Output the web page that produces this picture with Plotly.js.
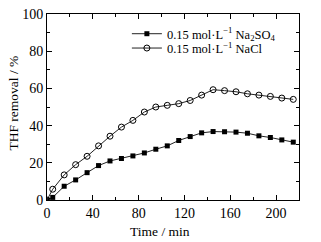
<!DOCTYPE html>
<html>
<head>
<meta charset="utf-8">
<script src="https://cdn.plot.ly/plotly-3.0.1.min.js"></script>
<style>html,body{margin:0;padding:0;background:#fff;}#chart{width:321px;height:242px;}</style>
</head>
<body>
<div id="chart"></div>
<script>
const timeMin = [0, 5, 15, 25, 35, 45, 55, 65, 75, 85, 95, 105, 115, 125, 135, 145, 155, 165, 175, 185, 195, 205, 215];
const na2so4 = [0, 1.4, 7.4, 10.8, 14.7, 18.5, 21.0, 22.3, 23.7, 25.3, 27.3, 29.1, 32.0, 34.1, 36.1, 36.8, 36.7, 36.5, 35.9, 34.5, 33.6, 32.3, 31.1];
const nacl = [0, 5.8, 13.5, 19.0, 23.5, 29.1, 34.3, 39.2, 42.8, 47.3, 50.0, 50.9, 51.8, 53.5, 56.4, 59.3, 58.8, 58.2, 57.1, 56.4, 55.7, 54.8, 54.1];
const seriesNames = ["0.15 mol·L<sup>−1</sup> Na<sub>2</sub>SO<sub>4</sub>", "0.15 mol·L<sup>−1</sup> NaCl"];
const xTicks = [0, 40, 80, 120, 160, 200];
const yTicks = [0, 20, 40, 60, 80, 100];
const xTitle = "Time / min";
const yTitle = "THF removal / %";

const fam = "Liberation Serif, Times New Roman, serif";
const font = {family: fam, size: 14, color: "#000"};
const titleFont = {family: fam, size: 13.5, color: "#000"};
const legFont = {family: fam, size: 12.5, color: "#000"};
const traces = [
  {x: timeMin, y: na2so4, name: seriesNames[0], mode: "lines+markers", type: "scatter", legend: "legend",
   line: {color: "#222", width: 1},
   marker: {symbol: "square", size: 5, color: "#000", line: {width: 0}}},
  {x: timeMin, y: nacl, name: seriesNames[1], mode: "lines+markers", type: "scatter", legend: "legend2",
   line: {color: "#222", width: 1},
   marker: {symbol: "circle-open", size: 6, color: "#000", line: {width: 1, color: "#000"}}}
];
const axisCommon = {
  showline: true, linecolor: "#000", linewidth: 1, mirror: "allticks",
  ticks: "inside", ticklen: 5, tickwidth: 1, tickcolor: "#000",
  showgrid: false, zeroline: false, tickfont: font
};
const layout = {
  width: 321, height: 242,
  margin: {l: 47, r: 22, t: 14, b: 42},
  paper_bgcolor: "#fff", plot_bgcolor: "#fff",
  font: font,
  showlegend: true,
  legend: {x: 0.317, y: 0.892, xanchor: "left", yanchor: "middle", bgcolor: "rgba(0,0,0,0)",
           font: legFont, itemwidth: 30},
  legend2: {x: 0.317, y: 0.815, xanchor: "left", yanchor: "middle", bgcolor: "rgba(0,0,0,0)",
           font: legFont, itemwidth: 30},
  xaxis: Object.assign({}, axisCommon, {
    range: [0, 220], tickvals: xTicks, ticktext: xTicks.map(String),
    minor: {dtick: 20, ticks: "inside", ticklen: 3, tickcolor: "#000"}
  }),
  yaxis: Object.assign({}, axisCommon, {
    range: [0, 100], tickvals: yTicks, ticktext: yTicks.map(String),
    minor: {dtick: 10, ticks: "inside", ticklen: 3, tickcolor: "#000"}
  }),
  annotations: [
    {text: xTitle, xref: "paper", yref: "paper", x: 0.448, y: -0.167, xanchor: "center", yanchor: "middle",
     showarrow: false, font: titleFont},
    {text: yTitle, xref: "paper", yref: "paper", x: -0.131, y: 0.524, xanchor: "center", yanchor: "middle",
     textangle: -90, showarrow: false, font: titleFont}
  ]
};
Plotly.newPlot("chart", traces, layout, {staticPlot: true, displayModeBar: false});
</script>
</body>
</html>
